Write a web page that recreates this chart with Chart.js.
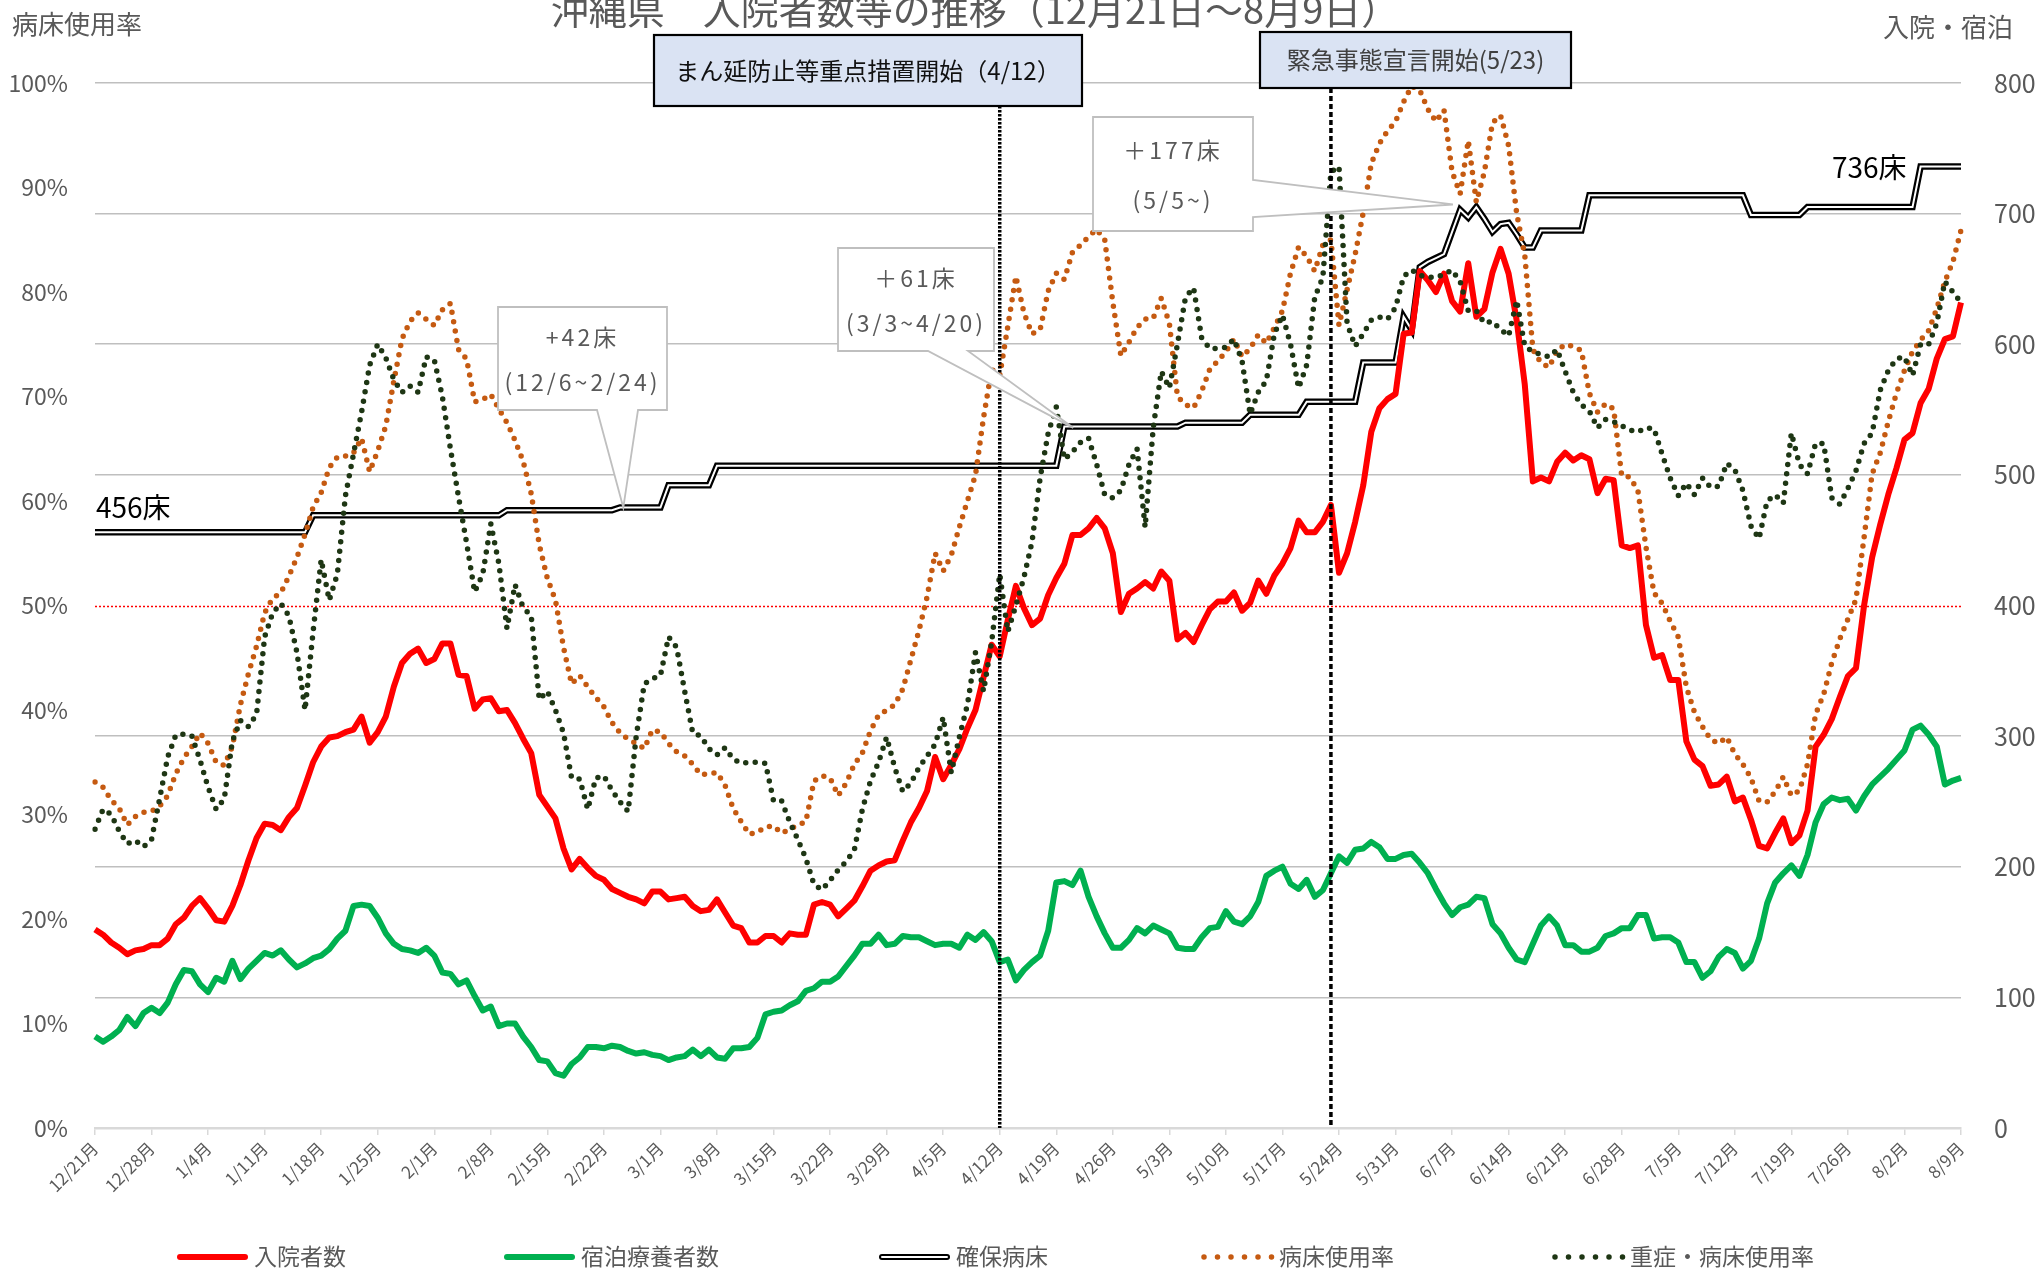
<!DOCTYPE html>
<html lang="ja">
<head>
<meta charset="utf-8">
<title>沖縄県 入院者数等の推移</title>
<script src="https://cdn.jsdelivr.net/npm/chart.js@4.4.1/dist/chart.umd.min.js"></script>
<style>
  html, body { margin: 0; padding: 0; background: #ffffff; overflow: hidden; }
  canvas { display: block; }
</style>
</head>
<body>
<canvas id="chart" width="2039" height="1269"></canvas>
<script>
const FONT = "'Noto Sans CJK JP', 'Noto Sans', sans-serif";
const GREY_TEXT = '#595959';

// x axis: one point per day from 12/21 to 8/9, labelled every 7 days
const tickLabels = ['12/21月', '12/28月', '1/4月', '1/11月', '1/18月', '1/25月', '2/1月', '2/8月',
  '2/15月', '2/22月', '3/1月', '3/8月', '3/15月', '3/22月', '3/29月', '4/5月', '4/12月',
  '4/19月', '4/26月', '5/3月', '5/10月', '5/17月', '5/24月', '5/31月', '6/7月', '6/14月',
  '6/21月', '6/28月', '7/5月', '7/12月', '7/19月', '7/26月', '8/2月', '8/9月'];

// 入院者数 (right axis)
const inpatients = [
  152,148,142,138,133,136,137,140,140,145,
  156,161,170,176,168,159,158,170,186,205,
  222,233,232,228,238,245,262,280,292,299,
  300,303,305,315,295,303,315,338,356,363,
  367,356,359,371,371,347,346,321,328,329,
  319,320,310,298,287,255,246,237,214,198,
  206,199,193,190,183,180,177,175,172,181,
  181,175,176,177,170,166,167,175,165,155,
  153,142,142,147,147,142,149,148,148,171,
  173,171,162,168,174,185,197,201,204,205,
  220,234,245,258,284,267,278,290,306,320,
  345,370,361,389,415,398,385,390,408,421,
  432,454,454,459,467,459,440,395,409,413,
  418,413,426,419,374,379,372,385,397,403,
  403,410,396,402,419,409,423,432,444,465,
  456,456,464,477,425,440,464,492,533,551,
  558,562,608,609,656,649,640,654,633,625,
  662,621,627,655,673,654,618,569,495,498,
  495,510,517,511,515,512,486,497,496,446,
  444,446,385,360,362,343,343,296,282,277,
  262,263,269,250,253,236,216,214,226,237,
  218,224,243,292,301,313,330,346,352,400,
  437,462,485,505,527,532,555,566,589,604,
  606,632
];

// 宿泊療養者数 (right axis)
const hotelStays = [
  70,66,70,75,85,78,88,92,88,96,
  110,121,120,110,104,115,112,128,114,122,
  128,134,132,136,129,123,126,130,132,137,
  145,151,170,171,170,161,149,141,137,136,
  134,138,132,119,118,110,113,101,90,93,
  78,80,80,70,62,52,51,42,40,49,
  54,62,62,61,63,62,59,57,58,56,
  55,52,54,55,60,55,60,54,53,61,
  61,62,69,87,89,90,94,97,105,107,
  112,112,116,124,132,141,141,148,140,141,
  147,146,146,143,140,141,141,138,148,144,
  150,143,127,129,113,121,127,132,151,188,
  189,186,197,177,162,149,138,138,144,153,
  149,155,152,149,138,137,137,146,153,154,
  166,158,156,162,173,193,197,200,187,183,
  190,177,182,195,208,203,213,214,219,215,
  206,206,209,210,203,195,183,172,163,169,
  171,177,176,156,149,138,129,127,141,155,
  162,155,140,140,135,135,138,147,149,153,
  153,163,163,145,146,146,142,127,127,115,
  120,131,137,134,122,128,145,172,188,195,
  201,193,209,234,248,253,251,252,243,254,
  263,269,275,282,289,305,308,301,292,263,
  266,268
];

// 確保病床 (right axis)
const securedBeds = [
  456,456,456,456,456,456,456,456,456,456,
  456,456,456,456,456,456,456,456,456,456,
  456,456,456,456,456,456,456,469,469,469,
  469,469,469,469,469,469,469,469,469,469,
  469,469,469,469,469,469,469,469,469,469,
  469,473,473,473,473,473,473,473,473,473,
  473,473,473,473,473,475,475,475,475,475,
  475,492,492,492,492,492,492,507,507,507,
  507,507,507,507,507,507,507,507,507,507,
  507,507,507,507,507,507,507,507,507,507,
  507,507,507,507,507,507,507,507,507,507,
  507,507,507,507,507,507,507,507,507,507,
  537,537,537,537,537,537,537,537,537,537,
  537,537,537,537,537,540,540,540,540,540,
  540,540,540,546,546,546,546,546,546,546,
  556,556,556,556,556,556,556,586,586,586,
  586,586,621,611,659,663,666,669,686,703,
  697,705,696,686,692,693,684,674,674,687,
  687,687,687,687,687,714,714,714,714,714,
  714,714,714,714,714,714,714,714,714,714,
  714,714,714,714,714,699,699,699,699,699,
  699,699,705,705,705,705,705,705,705,705,
  705,705,705,705,705,705,736,736,736,736,
  736,736
];

// 病床使用率 (%, left axis)
const bedUseRate = [
  33.1,32.6,31.4,30.6,29.0,29.8,30.2,30.3,30.8,31.8,
  33.9,35.4,36.5,37.8,36.8,35.0,34.7,36.5,40.5,43.5,
  46.1,49.3,50.7,51.2,52.8,54.6,56.8,59.4,60.8,63.2,
  64.2,64.3,64.6,66.0,62.8,64.8,67.2,71.5,75.5,77.2,
  78.0,77.4,76.8,78.3,78.9,74.5,73.6,69.5,69.7,70.2,
  68.8,67.5,65.8,63.8,60.7,55.8,52.6,50.5,46.0,42.5,
  43.3,42.2,41.2,40.3,38.8,37.8,37.2,36.8,36.3,38.1,
  37.9,36.8,36.0,35.6,34.8,33.8,33.9,34.0,32.8,30.6,
  29.3,28.1,28.3,28.8,28.9,28.2,28.6,29.0,29.3,33.2,
  33.7,33.5,31.8,33.0,34.8,35.9,38.0,39.5,40.0,40.5,
  42.0,44.8,47.6,50.8,55.0,53.3,54.8,57.5,60.0,62.5,
  68.0,72.6,72.0,76.7,81.5,78.0,76.0,76.4,80.1,81.8,
  81.2,83.8,84.5,85.3,86.0,85.0,79.0,73.9,75.2,76.6,
  77.4,77.5,79.4,77.0,70.0,69.2,68.9,70.5,72.6,73.4,
  74.3,75.5,73.8,74.6,75.9,75.1,76.6,78.2,81.8,84.3,
  83.4,82.0,84.5,85.0,76.8,80.2,83.6,87.6,92.3,94.2,
  95.4,96.3,98.2,99.7,99.3,97.5,96.3,97.4,91.5,89.4,
  94.5,88.6,91.5,96.2,96.9,94.0,87.5,83.5,74.5,73.2,
  72.8,74.4,75.0,74.8,74.4,70.3,68.5,69.3,68.8,62.4,
  62.3,61.0,55.6,51.2,50.2,48.5,47.0,42.2,39.8,38.4,
  37.2,36.8,37.4,35.8,34.8,33.5,31.3,31.2,32.2,33.6,
  31.8,32.3,34.8,39.6,41.5,44.5,46.8,48.7,50.6,56.5,
  62.6,64.6,67.6,70.3,72.5,74.3,75.4,76.3,78.4,81.0,
  82.9,85.9
];

// 重症・病床使用率 (%, left axis)
const severeUseRate = [
  28.6,30.5,30.0,28.4,27.2,27.5,26.9,27.6,31.5,35.5,
  37.6,37.7,37.5,35.2,32.6,30.5,31.5,37.0,39.0,38.4,
  39.6,47.0,49.3,50.2,49.0,45.5,40.0,47.5,54.4,50.5,
  53.0,60.5,64.5,68.5,73.0,75.0,73.7,71.6,70.4,71.0,
  70.4,73.8,73.5,70.0,65.0,60.4,56.0,51.3,53.0,57.8,
  54.0,47.8,52.0,49.8,49.0,41.0,41.8,40.0,37.8,33.5,
  33.4,30.5,33.5,33.7,32.3,31.2,30.3,37.5,42.5,43.0,
  43.3,47.0,46.0,41.8,37.8,37.5,36.3,35.7,36.4,35.3,
  34.9,35.0,35.0,34.9,31.3,31.3,29.3,27.6,25.8,23.3,
  22.8,23.7,24.7,25.5,26.6,30.5,33.2,35.0,37.4,34.5,
  32.2,33.0,34.5,35.6,36.7,39.3,34.0,37.4,40.5,45.5,
  41.8,46.5,53.0,47.5,50.0,52.7,56.1,62.2,66.5,69.0,
  64.0,64.7,65.6,66.0,63.5,60.6,60.3,61.0,63.5,65.0,
  57.5,67.0,72.4,70.8,75.0,79.5,80.4,75.6,74.6,74.6,
  74.7,75.5,73.4,68.3,70.4,71.5,76.0,77.8,75.0,70.8,
  73.0,79.5,81.4,91.5,92.0,77.0,74.8,76.0,77.3,77.6,
  77.4,78.5,81.5,82.1,81.6,81.4,81.4,81.7,82.1,81.0,
  78.2,78.2,77.0,77.2,76.4,75.8,79.2,74.8,74.3,74.0,
  73.8,74.5,72.4,70.4,69.2,68.6,67.0,67.8,67.6,67.2,
  66.8,66.6,67.0,66.9,64.5,62.2,60.5,61.7,60.6,62.2,
  61.3,61.4,63.6,63.0,61.0,57.6,56.4,60.0,60.6,59.8,
  66.5,63.5,62.6,65.5,65.5,60.3,59.7,61.2,62.9,65.5,
  66.5,70.6,72.5,73.6,73.8,72.0,75.0,75.0,77.0,81.0,
  80.0,79.0
];

// one category per day, 2020-12-21 .. 2021-08-09
const days = [];
for (let d = new Date(2020, 11, 21); d <= new Date(2021, 7, 9); d.setDate(d.getDate() + 1)) {
  days.push((d.getMonth() + 1) + '/' + d.getDate());
}

const COLORS = {
  inpatients: '#FF0000',
  hotel: '#00B050',
  beds: '#000000',
  bedRate: '#C55A11',
  severe: '#1E3614'
};

const DOT = [0, 9.5];

// event markers: vertical line + label box above the plot
const events = [
  { index: 112, text: 'まん延防止等重点措置開始（4/12）', box: [654, 35, 428, 71], textColor: '#111111', size: 24, dash: [2.5, 1.5], width: 3.5 },
  { index: 153, text: '緊急事態宣言開始(5/23)', box: [1260, 32, 311, 56], textColor: '#404040', size: 24, dash: [5, 3], width: 3.5 }
];

// bed increase callouts (tip is given in data coordinates)
const callouts = [
  { lines: ['+42床', '(12/6~2/24)'], box: [498, 307, 169, 103], side: 'bottom', base: [597, 638], tip: [65.4, 475] },
  { lines: ['＋61床', '(3/3~4/20)'], box: [838, 248, 156, 103], side: 'bottom', base: [928, 968], tip: [121.1, 536] },
  { lines: ['＋177床', '(5/5~)'], box: [1093, 117, 160, 114], side: 'right', base: [180, 217], tip: [168.1, 707] }
];

const legendItems = [
  { label: '入院者数', kind: 'solid', color: COLORS.inpatients, x: 177 },
  { label: '宿泊療養者数', kind: 'solid', color: COLORS.hotel, x: 504 },
  { label: '確保病床', kind: 'double', color: COLORS.beds, x: 879 },
  { label: '病床使用率', kind: 'dots', color: COLORS.bedRate, x: 1202 },
  { label: '重症・病床使用率', kind: 'dots', color: COLORS.severe, x: 1553 }
];

function text(ctx, str, x, y, size, color, align, spacing) {
  ctx.font = size + 'px ' + FONT;
  ctx.fillStyle = color;
  ctx.textAlign = align || 'left';
  ctx.textBaseline = 'middle';
  ctx.letterSpacing = (spacing || 0) + 'px';
  ctx.fillText(str, x, y);
  ctx.letterSpacing = '0px';
}

const overlay = {
  id: 'overlay',
  beforeDatasetsDraw(chart) {
    const { ctx, chartArea: a, scales } = chart;
    const y = Math.round(scales.y1.getPixelForValue(400)) + 0.5;
    ctx.save();
    ctx.strokeStyle = '#FF0000';
    ctx.lineWidth = 1.5;
    ctx.setLineDash([2, 2]);
    ctx.beginPath();
    ctx.moveTo(a.left, y);
    ctx.lineTo(a.right, y);
    ctx.stroke();
    ctx.restore();
  },
  afterDatasetsDraw(chart) {
    const { ctx, chartArea: a, scales } = chart;
    ctx.save();

    events.forEach(ev => {
      const x = scales.x.getPixelForValue(ev.index);
      const [bx, by, bw, bh] = ev.box;
      ctx.strokeStyle = '#000000';
      ctx.lineWidth = ev.width;
      ctx.setLineDash(ev.dash);
      ctx.beginPath();
      ctx.moveTo(x, by + bh);
      ctx.lineTo(x, a.bottom);
      ctx.stroke();
      ctx.setLineDash([]);
      ctx.fillStyle = '#DAE3F3';
      ctx.fillRect(bx, by, bw, bh);
      ctx.lineWidth = 2.2;
      ctx.strokeRect(bx, by, bw, bh);
      text(ctx, ev.text, bx + bw / 2, by + bh / 2, ev.size, ev.textColor, 'center');
    });

    callouts.forEach(c => {
      const [bx, by, bw, bh] = c.box;
      const tx = scales.x.getPixelForValue(c.tip[0]);
      const ty = scales.y1.getPixelForValue(c.tip[1]);
      ctx.beginPath();
      ctx.moveTo(bx, by);
      ctx.lineTo(bx + bw, by);
      if (c.side === 'right') {
        ctx.lineTo(bx + bw, c.base[0]);
        ctx.lineTo(tx, ty);
        ctx.lineTo(bx + bw, c.base[1]);
        ctx.lineTo(bx + bw, by + bh);
        ctx.lineTo(bx, by + bh);
      } else {
        ctx.lineTo(bx + bw, by + bh);
        ctx.lineTo(c.base[1], by + bh);
        ctx.lineTo(tx, ty);
        ctx.lineTo(c.base[0], by + bh);
        ctx.lineTo(bx, by + bh);
      }
      ctx.closePath();
      ctx.fillStyle = '#FFFFFF';
      ctx.fill();
      ctx.strokeStyle = '#BFBFBF';
      ctx.lineWidth = 1.8;
      ctx.stroke();
      const cx = bx + bw / 2;
      text(ctx, c.lines[0], cx, by + bh * 0.29, 23, GREY_TEXT, 'center', 3);
      text(ctx, c.lines[1], cx, by + bh * 0.73, 23, GREY_TEXT, 'center', 3);
    });

    text(ctx, '456床', 96, 507, 28, '#000000');
    text(ctx, '736床', 1832, 167, 28, '#000000');
    ctx.restore();
  },
  afterDraw(chart) {
    const { ctx } = chart;
    ctx.save();
    text(ctx, '沖縄県　入院者数等の推移（12月21日～8月9日）', 975, 10, 38, GREY_TEXT, 'center');
    text(ctx, '病床使用率', 12, 24, 26, GREY_TEXT);
    text(ctx, '入院・宿泊', 1883, 27, 26, GREY_TEXT);

    const ly = 1257;
    legendItems.forEach(item => {
      const x0 = item.x, x1 = item.x + 71;
      ctx.lineCap = 'round';
      if (item.kind === 'dots') {
        ctx.strokeStyle = item.color;
        ctx.lineWidth = 5.5;
        ctx.setLineDash([0, 13.5]);
        ctx.beginPath();
        ctx.moveTo(x0 + 2, ly);
        ctx.lineTo(x1, ly);
        ctx.stroke();
        ctx.setLineDash([]);
      } else {
        ctx.strokeStyle = item.color;
        ctx.lineWidth = 6;
        ctx.beginPath();
        ctx.moveTo(x0 + 3, ly);
        ctx.lineTo(x1 - 3, ly);
        ctx.stroke();
        if (item.kind === 'double') {
          ctx.strokeStyle = '#FFFFFF';
          ctx.lineWidth = 2;
          ctx.beginPath();
          ctx.moveTo(x0 + 3, ly);
          ctx.lineTo(x1 - 3, ly);
          ctx.stroke();
        }
      }
      ctx.lineCap = 'butt';
      text(ctx, item.label, x1 + 6, ly - 1, 23, GREY_TEXT);
    });
    ctx.restore();
  }
};

new Chart(document.getElementById('chart').getContext('2d'), {
  type: 'line',
  data: {
    labels: days,
    datasets: [
      { label: '重症・病床使用率', data: severeUseRate, yAxisID: 'y', order: 0,
        borderColor: COLORS.severe, borderWidth: 5.5, borderDash: DOT, borderCapStyle: 'round' },
      { label: '病床使用率', data: bedUseRate, yAxisID: 'y', order: 1,
        borderColor: COLORS.bedRate, borderWidth: 5.5, borderDash: DOT, borderCapStyle: 'round' },
      { label: '入院者数', data: inpatients, yAxisID: 'y1', order: 2,
        borderColor: COLORS.inpatients, borderWidth: 6, borderJoinStyle: 'round' },
      { label: '確保病床', data: securedBeds, yAxisID: 'y1', order: 3,
        borderColor: '#FFFFFF', borderWidth: 2 },
      { label: '確保病床', data: securedBeds, yAxisID: 'y1', order: 4,
        borderColor: COLORS.beds, borderWidth: 6.5 },
      { label: '宿泊療養者数', data: hotelStays, yAxisID: 'y1', order: 5,
        borderColor: COLORS.hotel, borderWidth: 6, borderJoinStyle: 'round' }
    ]
  },
  options: {
    responsive: false,
    animation: false,
    devicePixelRatio: 1,
    layout: { padding: { top: 83, left: 0, right: 0, bottom: 0 } },
    elements: {
      point: { radius: 0, hoverRadius: 0 },
      line: { tension: 0, fill: false }
    },
    plugins: {
      legend: { display: false },
      tooltip: { enabled: false }
    },
    scales: {
      x: {
        type: 'category',
        offset: false,
        grid: { display: true, drawOnChartArea: false, drawTicks: true, tickLength: 7, color: '#D9D9D9', lineWidth: 1.5 },
        border: { color: '#D9D9D9', width: 2.5 },
        ticks: {
          autoSkip: false,
          maxRotation: 45,
          minRotation: 45,
          padding: 3,
          color: GREY_TEXT,
          font: { family: FONT, size: 17 },
          callback: (value, index) => (index % 7 === 0 ? tickLabels[index / 7] : null)
        },
        afterFit: scale => { scale.height = 1269 - 1128; }
      },
      y: {
        position: 'left',
        min: 0,
        max: 100,
        grid: { display: false, drawTicks: false },
        border: { display: false },
        ticks: {
          stepSize: 10,
          padding: 27,
          color: GREY_TEXT,
          font: { family: FONT, size: 23 },
          callback: v => v + '%'
        },
        afterFit: scale => { scale.width = 95; }
      },
      y1: {
        position: 'right',
        min: 0,
        max: 800,
        grid: {
          drawTicks: false,
          lineWidth: 1.6,
          color: c => (c.tick && (c.tick.value === 400 || c.tick.value === 0) ? 'rgba(0,0,0,0)' : '#BFBFBF')
        },
        border: { display: false },
        ticks: {
          stepSize: 100,
          padding: 33,
          color: GREY_TEXT,
          font: { family: FONT, size: 25 }
        },
        afterFit: scale => { scale.width = 78; }
      }
    }
  },
  plugins: [overlay]
});
</script>
</body>
</html>
